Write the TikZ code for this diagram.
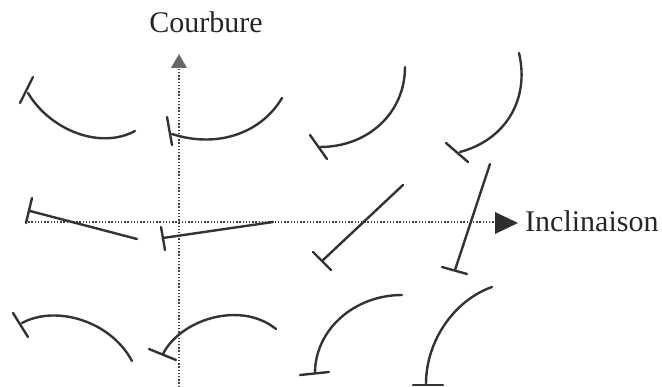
\documentclass[tikz,border=0pt]{standalone}
\usepackage{fontspec}
\setmainfont{Liberation Serif}
\begin{document}
\begin{tikzpicture}[x=1pt,y=-1pt,
  stroke/.style={draw=black!80,line width=2.4pt,line cap=round},
  axis/.style={draw=black!75,line width=1.5pt,dash pattern=on 1.4pt off 1.8pt},
  label/.style={font=\fontsize{30}{35}\selectfont,text=black!85,inner sep=0pt}]
\useasboundingbox (0,0) rectangle (662,387);

% axes
\coordinate (vtop) at (179,68);
\coordinate (vbot) at (179,387);
\coordinate (hleft) at (25,222);
\coordinate (hright) at (495,222);
\draw[axis] (vbot) -- (vtop);
\draw[axis] (hleft) -- (hright);
\fill[black!60] (179,54) -- (171,68) -- (187,68) -- cycle;
\fill[black!82] (518,223) -- (495,212) -- (495,234) -- cycle;
\node[label,anchor=base] (courbure) at (206,33) {Courbure};
\node[label,anchor=base west] (inclinaison) at (525,232) {Inclinaison};

% top row
\draw[stroke] (28,93) .. controls (50,130) and (100,150) .. (135,131);
\draw[stroke] (20,103) -- (33,77);
\draw[stroke] (172,134) .. controls (215,148) and (260,135) .. (282,98);
\draw[stroke] (167,117) -- (172,145);
\draw[stroke] (405,67) .. controls (405,113) and (368,147) .. (320,147);
\draw[stroke] (310,135) -- (327,159);
\draw[stroke] (519,53) .. controls (530,100) and (505,140) .. (460,152);
\draw[stroke] (446,143) -- (468,162);

% middle row
\draw[stroke] (30,211) -- (137,239);
\draw[stroke] (26,223) -- (32,198);
\draw[stroke] (163,238) -- (273,222);
\draw[stroke] (161,227) -- (165,250);
\draw[stroke] (403,185) -- (322,261);
\draw[stroke] (313,252) -- (331,270);
\draw[stroke] (490,164) -- (455,270);
\draw[stroke] (442,267) -- (467,274);

% bottom row
\draw[stroke] (22,323) .. controls (55,305) and (110,320) .. (132,361);
\draw[stroke] (13,313) -- (28,337);
\draw[stroke] (163,354) .. controls (180,320) and (240,300) .. (276,329);
\draw[stroke] (149,349) -- (176,360);
\draw[stroke] (402,295) .. controls (354,295) and (315,330) .. (315,373);
\draw[stroke] (300,375) -- (329,372);
\draw[stroke] (492,287) .. controls (455,300) and (426,340) .. (426,384);
\draw[stroke] (413,385) -- (443,385);
\end{tikzpicture}
\end{document}
